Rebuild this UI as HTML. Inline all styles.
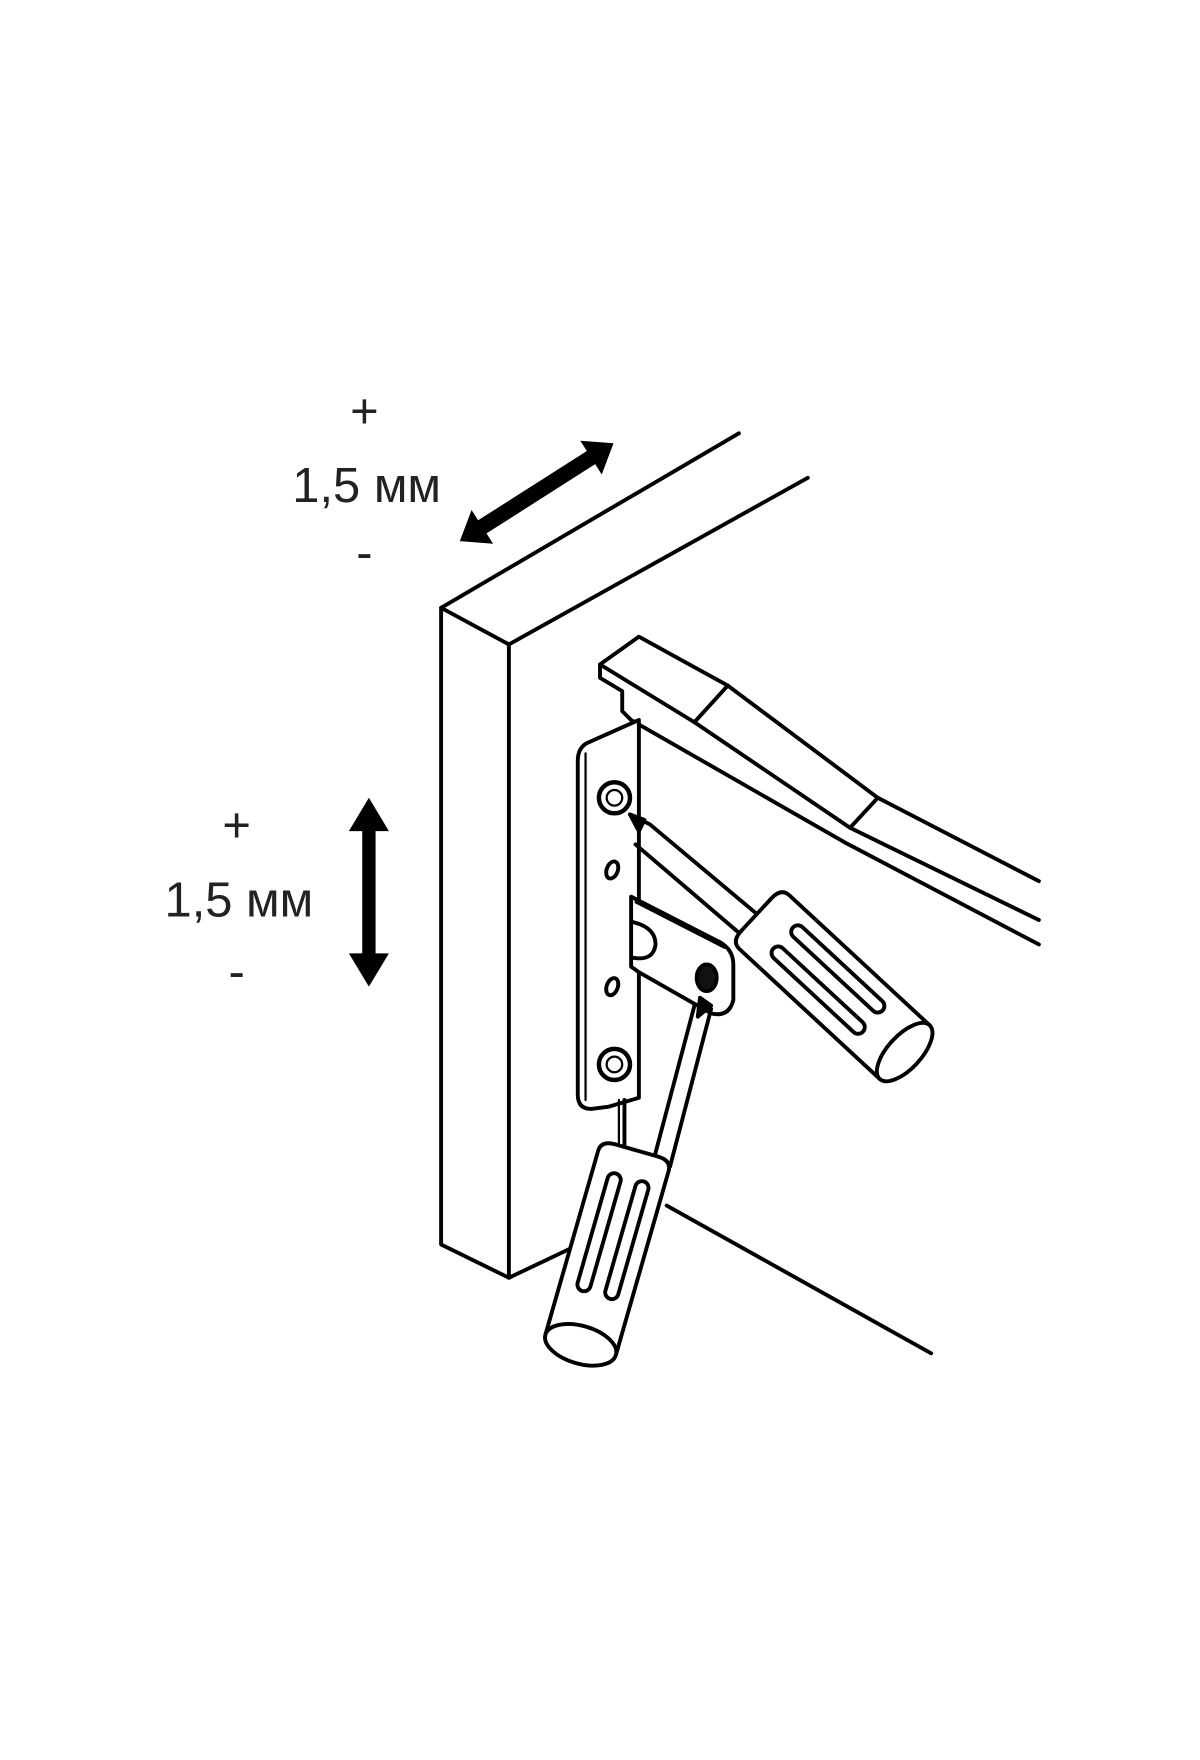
<!DOCTYPE html>
<html><head><meta charset="utf-8"><style>
html,body{margin:0;padding:0;background:#fff;}
svg{display:block;}
text{font-family:"Liberation Sans","DejaVu Sans",sans-serif;fill:#222;}
</style></head><body>
<svg width="1200" height="1760" viewBox="0 0 1080 1584" xmlns="http://www.w3.org/2000/svg">
<rect width="1080" height="1584" fill="#fff"/>
<g font-size="44" text-anchor="middle">
<text x="328" y="385">+</text>
<text x="330" y="452">1,5 мм</text>
<text x="328" y="512">-</text>
<text x="213" y="758">+</text>
<text x="215" y="825">1,5 мм</text>
<text x="213" y="889">-</text>
</g>
<g transform="translate(483,443) rotate(-32.5)">
<polygon points="-82,0 -58,-18 -58,-7 58,-7 58,-18 82,0 58,18 58,7 -58,7 -58,18" fill="#000"/>
</g>
<polygon points="332,718 350,748 338,748 338,858 350,858 332,888 314,858 326,858 326,748 314,748" fill="#000"/>
<g fill="none" stroke="#000" stroke-width="3.5" stroke-linejoin="round" stroke-linecap="round">
<polyline points="665,390 397,547 458,580 727,430"/>
<polyline points="397,547 397,1120 458,1150 458,580"/>
<polyline points="458,1150 517,1122"/>
<line x1="600" y1="1085" x2="838" y2="1218"/>
<polyline points="540,598 575,573 655,617 790,718 935,793"/>
<polyline points="540,598 625,650 765,745 935,828"/>
<polyline points="540,598 540,610 560,622 560,640 568,648"/>
<line x1="568" y1="648" x2="760" y2="758"/>
<line x1="760" y1="758" x2="935" y2="850"/>
<line x1="655" y1="617" x2="625" y2="650"/>
<line x1="790" y1="718" x2="765" y2="745"/>
<path d="M575,648 L548,660 L530,668 Q520,672 520,685 L520,985 Q520,998 532,998 L548,996 L575,988 Z" fill="#fff"/>
<line x1="527" y1="678" x2="527" y2="990" stroke-width="2"/>
<line x1="562" y1="990" x2="562" y2="1040"/>
<line x1="557" y1="990" x2="557" y2="1040" stroke-width="2"/>
<circle cx="553" cy="718" r="14" stroke-width="4"/>
<circle cx="553" cy="718" r="7" stroke-width="2"/>
<circle cx="553" cy="958" r="14" stroke-width="4"/>
<circle cx="553" cy="958" r="7" stroke-width="2"/>
<ellipse cx="551" cy="783" rx="5" ry="8" transform="rotate(20 551 783)"/>
<ellipse cx="551" cy="888" rx="5" ry="8" transform="rotate(20 551 888)"/>
<path d="M568,807 L648,848 Q660,855 660,868 L660,900 Q656,916 640,912 L575,875 L568,870 Z" fill="#fff"/>
<path d="M570,830 Q590,835 590,850 Q588,865 570,862"/>
<line x1="572" y1="812" x2="652" y2="853" stroke-width="2"/>
<ellipse cx="636" cy="880" rx="9" ry="12" fill="#111"/>
<polyline points="567,733 585,742 690,830" />
<line x1="572" y1="760" x2="675" y2="848"/>
<polygon points="567,733 580,738 575,748" fill="#000"/>
<g transform="translate(688,830) rotate(42.8)" fill="#fff">
<path d="M0,-33 L172,-33 L172,33 L0,33 Q-10,33 -10,20 L-10,-20 Q-10,-33 0,-33 Z"/>
<ellipse cx="172" cy="0" rx="15" ry="33"/>
<rect x="22" y="-20" width="110" height="12" rx="6"/>
<rect x="22" y="6" width="110" height="12" rx="6"/>
</g>
<line x1="625" y1="905" x2="588" y2="1045"/>
<line x1="640" y1="908" x2="603" y2="1050"/>
<polygon points="630,898 640,905 628,915" fill="#000"/>
<g transform="translate(570,1045) rotate(106)" fill="#fff">
<path d="M0,-33 L172,-33 L172,33 L0,33 Q-10,33 -10,20 L-10,-20 Q-10,-33 0,-33 Z"/>
<ellipse cx="172" cy="0" rx="17" ry="33"/>
<rect x="15" y="-20" width="110" height="12" rx="6"/>
<rect x="15" y="6" width="110" height="12" rx="6"/>
</g>
</g>
</svg>
</body></html>
